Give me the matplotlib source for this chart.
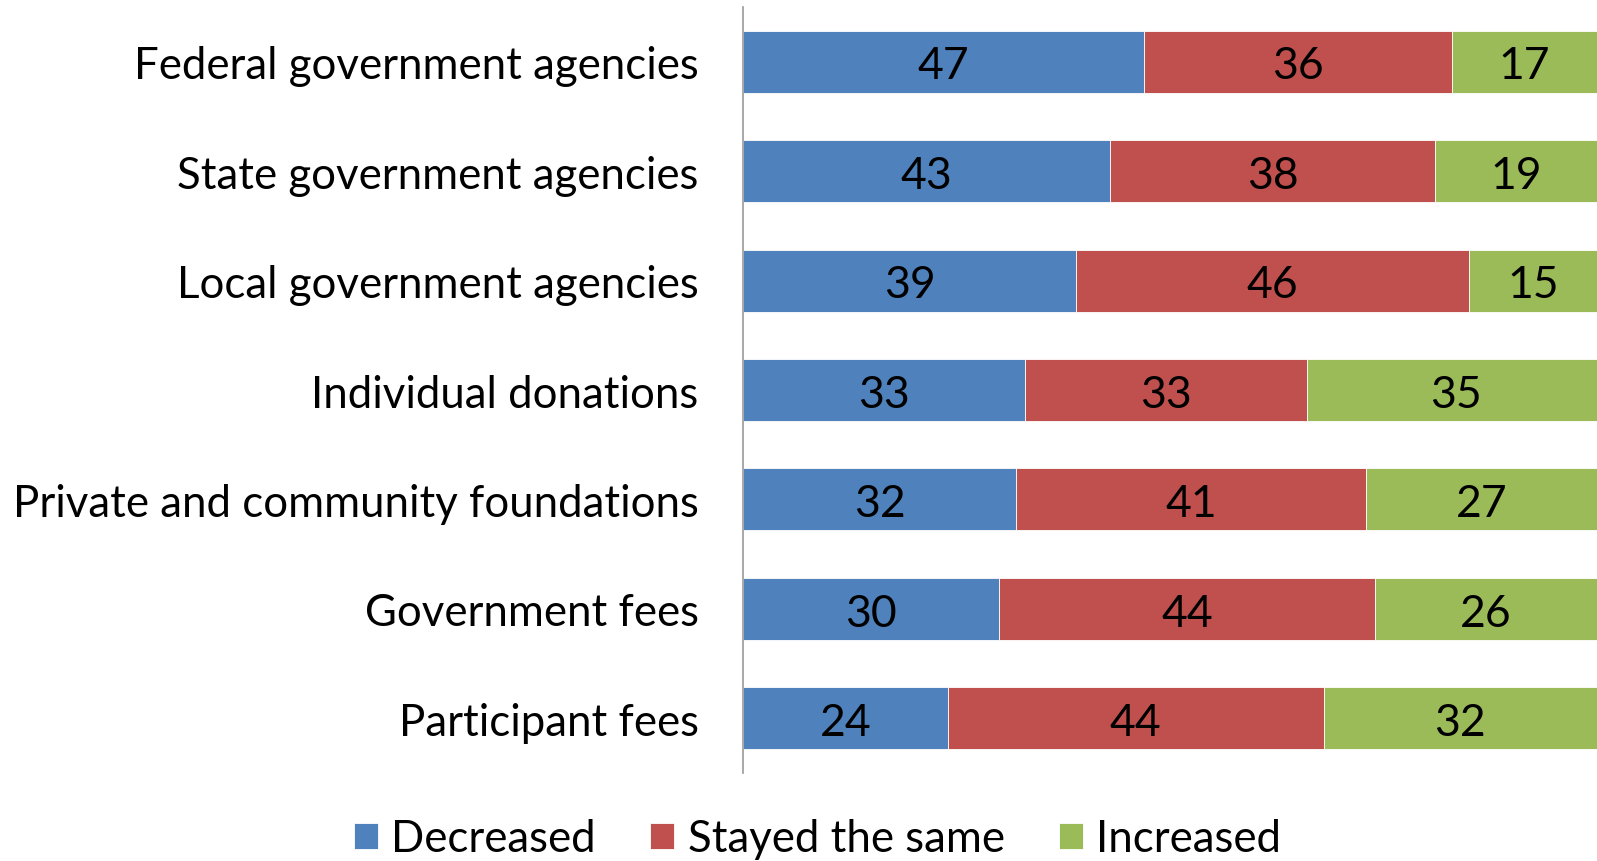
import matplotlib.pyplot as plt

plt.rcParams['font.family'] = ['Lato', 'DejaVu Sans']

categories = ["Federal government agencies", "State government agencies",
              "Local government agencies", "Individual donations",
              "Private and community foundations", "Government fees",
              "Participant fees"]
decreased = [47, 43, 39, 33, 32, 30, 24]
stayed = [36, 38, 46, 33, 41, 44, 44]
increased = [17, 19, 15, 35, 27, 26, 32]
series_names = ["Decreased", "Stayed the same", "Increased"]
colors = ["#4F81BD", "#C0504D", "#9BBB59"]

fig = plt.figure(figsize=(15.97, 8.62), dpi=100)
ax = fig.add_axes([743 / 1597, 1 - 774 / 862, 854 / 1597, 766 / 862])

y = list(range(len(categories)))
left = [0] * len(categories)
handles = []
for name, vals, c in zip(series_names, [decreased, stayed, increased], colors):
    bars = ax.barh(y, vals, left=left, height=0.566, color=c,
                   edgecolor="white", linewidth=0.6, label=name)
    handles.append(bars)
    for yi, v, l in zip(y, vals, left):
        ax.annotate(str(v), (l + v / 2, yi), xytext=(0, -3),
                    textcoords="offset points", ha="center", va="center",
                    fontsize=32, color="black")
    left = [a + b for a, b in zip(left, vals)]

ax.set_xlim(0, 100)
ax.set_ylim(len(categories) - 0.5, -0.5)
ax.set_yticks(y)
ax.set_yticklabels(categories, fontsize=31.5)
ax.tick_params(axis="y", length=0, pad=32)
ax.set_xticks([])
for s in ["top", "right", "bottom"]:
    ax.spines[s].set_visible(False)
ax.spines["left"].set_color("#999999")
ax.spines["left"].set_linewidth(1.2)

fig.legend(handles=handles, labels=series_names, loc="center",
           bbox_to_anchor=(0.512, 1 - 840 / 862), ncol=3, frameon=False,
           fontsize=31.5, handlelength=0.55, handleheight=0.55,
           handletextpad=0.3, columnspacing=1.25)

fig.savefig("out.png", dpi=100)
